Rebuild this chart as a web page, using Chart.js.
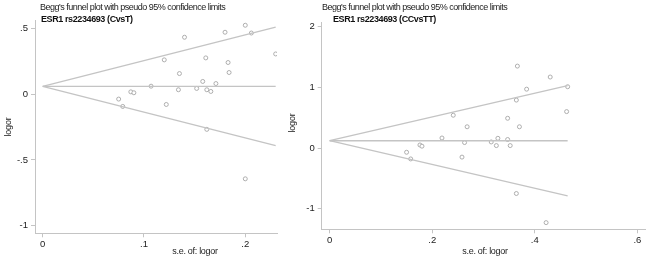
<!DOCTYPE html>
<html>
<head>
<meta charset="utf-8">
<script src="https://cdn.jsdelivr.net/npm/chart.js@4.4.0/dist/chart.umd.min.js"></script>
<style>
  html, body { margin: 0; padding: 0; background: #fff; }
  #wrap { position: relative; width: 650px; height: 259px; overflow: hidden; font-family: "Liberation Sans", Arial, sans-serif; color: #222; }
  canvas { position: absolute; top: 0; }
  .txt { position: absolute; white-space: nowrap; font-size: 9px; line-height: 10px; }
  .ttl { letter-spacing: -0.5px; }
  .sub { font-weight: bold; color: #111; letter-spacing: -0.4px; }
  .ylab { transform: translate(-50%, -50%) rotate(-90deg); letter-spacing: -0.2px; }
  .xlab { transform: translateX(-50%); letter-spacing: -0.3px; }
</style>
</head>
<body>
<div id="wrap">
  <canvas id="leftChart" width="290" height="259" style="left:0;width:290px;height:259px"></canvas>
  <canvas id="rightChart" width="360" height="259" style="left:290px;width:360px;height:259px"></canvas>

  <div class="txt ttl" style="left:40px;top:2px">Begg's funnel plot with pseudo 95% confidence limits</div>
  <div class="txt sub" style="left:41px;top:14px">ESR1 rs2234693 (CvsT)</div>
  <div class="txt ylab" style="left:8px;top:127px">logor</div>
  <div class="txt xlab" style="left:195px;top:246px">s.e. of: logor</div>

  <div class="txt ttl" style="left:322px;top:2px">Begg's funnel plot with pseudo 95% confidence limits</div>
  <div class="txt sub" style="left:333px;top:14px">ESR1 rs2234693 (CCvsTT)</div>
  <div class="txt ylab" style="left:292px;top:123px">logor</div>
  <div class="txt xlab" style="left:485px;top:246px">s.e. of: logor</div>
</div>

<script>
// Left panel: C vs T
const seLeft = [0.200, 0.180, 0.206, 0.140, 0.230, 0.120, 0.161, 0.183, 0.184, 0.135, 0.158, 0.171,
                0.107, 0.134, 0.152, 0.162, 0.166, 0.087, 0.090, 0.075, 0.079, 0.122, 0.162, 0.200];
const logorLeft = [0.523, 0.470, 0.464, 0.432, 0.305, 0.260, 0.275, 0.240, 0.164, 0.156, 0.096, 0.080,
                   0.060, 0.033, 0.043, 0.033, 0.020, 0.017, 0.010, -0.038, -0.094, -0.079, -0.268, -0.644];
const limitSeLeft = [0, 0.23];
const fixedLeft = [0.059, 0.059];
const upperLeft = [0.059, 0.508];
const lowerLeft = [0.059, -0.392];
const yTicksLeft = [0.5, 0, -0.5, -1];
const xTicksLeft = [0, 0.1, 0.2];

// Right panel: CC vs TT
const seRight = [0.366, 0.430, 0.384, 0.464, 0.364, 0.462, 0.241, 0.347, 0.268, 0.370, 0.219, 0.263,
                 0.315, 0.328, 0.347, 0.325, 0.352, 0.176, 0.180, 0.150, 0.158, 0.258, 0.364, 0.422];
const logorRight = [1.35, 1.17, 0.97, 1.01, 0.79, 0.60, 0.54, 0.49, 0.35, 0.35, 0.165, 0.09,
                    0.10, 0.16, 0.14, 0.04, 0.04, 0.05, 0.03, -0.07, -0.18, -0.15, -0.75, -1.23];
const limitSeRight = [0, 0.464];
const fixedRight = [0.12, 0.12];
const upperRight = [0.12, 1.03];
const lowerRight = [0.12, -0.79];
const yTicksRight = [2, 1, 0, -1];
const xTicksRight = [0, 0.2, 0.4, 0.6];

const axisColor = '#c4c4c4';
const lineColor = '#c4c4c4';
const pointColor = '#a6a6a6';
const tickFont = { family: '"Liberation Sans", Arial, sans-serif', size: 9.5 };

function stataLabel(v) {
    if (v === 0) return '0';
    return String(v).replace('0.', '.');
}

function lineSet(xs, ys) {
    return {
        type: 'line',
        data: xs.map((x, i) => ({ x: x, y: ys[i] })),
        borderColor: lineColor,
        borderWidth: 1.3,
        pointRadius: 0,
        fill: false,
        tension: 0
    };
}

function makeFunnel(canvasId, se, logor, limitSe, fixed, upper, lower, xTicks, yTicks, range, box) {
    const ctx = document.getElementById(canvasId).getContext('2d');
    return new Chart(ctx, {
        type: 'scatter',
        data: {
            datasets: [
                lineSet(limitSe, upper),
                lineSet(limitSe, lower),
                lineSet(limitSe, fixed),
                {
                    data: se.map((x, i) => ({ x: x, y: logor[i] })),
                    pointRadius: 2,
                    pointBorderWidth: 0.9,
                    pointBorderColor: pointColor,
                    pointBackgroundColor: '#ffffff'
                }
            ]
        },
        options: {
            responsive: false,
            animation: false,
            layout: { padding: { top: box.top, right: box.right, left: 0, bottom: 0 } },
            plugins: { legend: { display: false }, tooltip: { enabled: false } },
            scales: {
                x: {
                    type: 'linear',
                    min: range.xMin,
                    max: range.xMax,
                    afterBuildTicks: s => { s.ticks = xTicks.map(v => ({ value: v })); },
                    afterFit: s => { s.height = box.xAxisH; },
                    grid: { drawOnChartArea: false, drawTicks: true, tickLength: 4, color: axisColor },
                    border: { display: true, color: axisColor, width: 1 },
                    ticks: { font: tickFont, color: '#222', padding: 1, maxRotation: 0, callback: v => stataLabel(v) }
                },
                y: {
                    type: 'linear',
                    min: range.yMin,
                    max: range.yMax,
                    afterBuildTicks: s => { s.ticks = yTicks.map(v => ({ value: v })); },
                    afterFit: s => { s.width = box.yAxisW; },
                    grid: { drawOnChartArea: false, drawTicks: true, tickLength: 4, color: axisColor },
                    border: { display: true, color: axisColor, width: 1 },
                    ticks: { font: tickFont, color: '#222', padding: 3, callback: v => stataLabel(v) }
                }
            }
        }
    });
}

makeFunnel('leftChart', seLeft, logorLeft, limitSeLeft, fixedLeft, upperLeft, lowerLeft,
    xTicksLeft, yTicksLeft,
    { xMin: -0.0076, xMax: 0.2313, yMin: -1.058, yMax: 0.563 },
    { top: 20, right: 13, xAxisH: 25.7, yAxisW: 35 });

makeFunnel('rightChart', seRight, logorRight, limitSeRight, fixedRight, upperRight, lowerRight,
    xTicksRight, yTicksRight,
    { xMin: -0.0155, xMax: 0.615, yMin: -1.34, yMax: 2.077 },
    { top: 22, right: 2, xAxisH: 29.7, yAxisW: 31.7 });
</script>
</body>
</html>
